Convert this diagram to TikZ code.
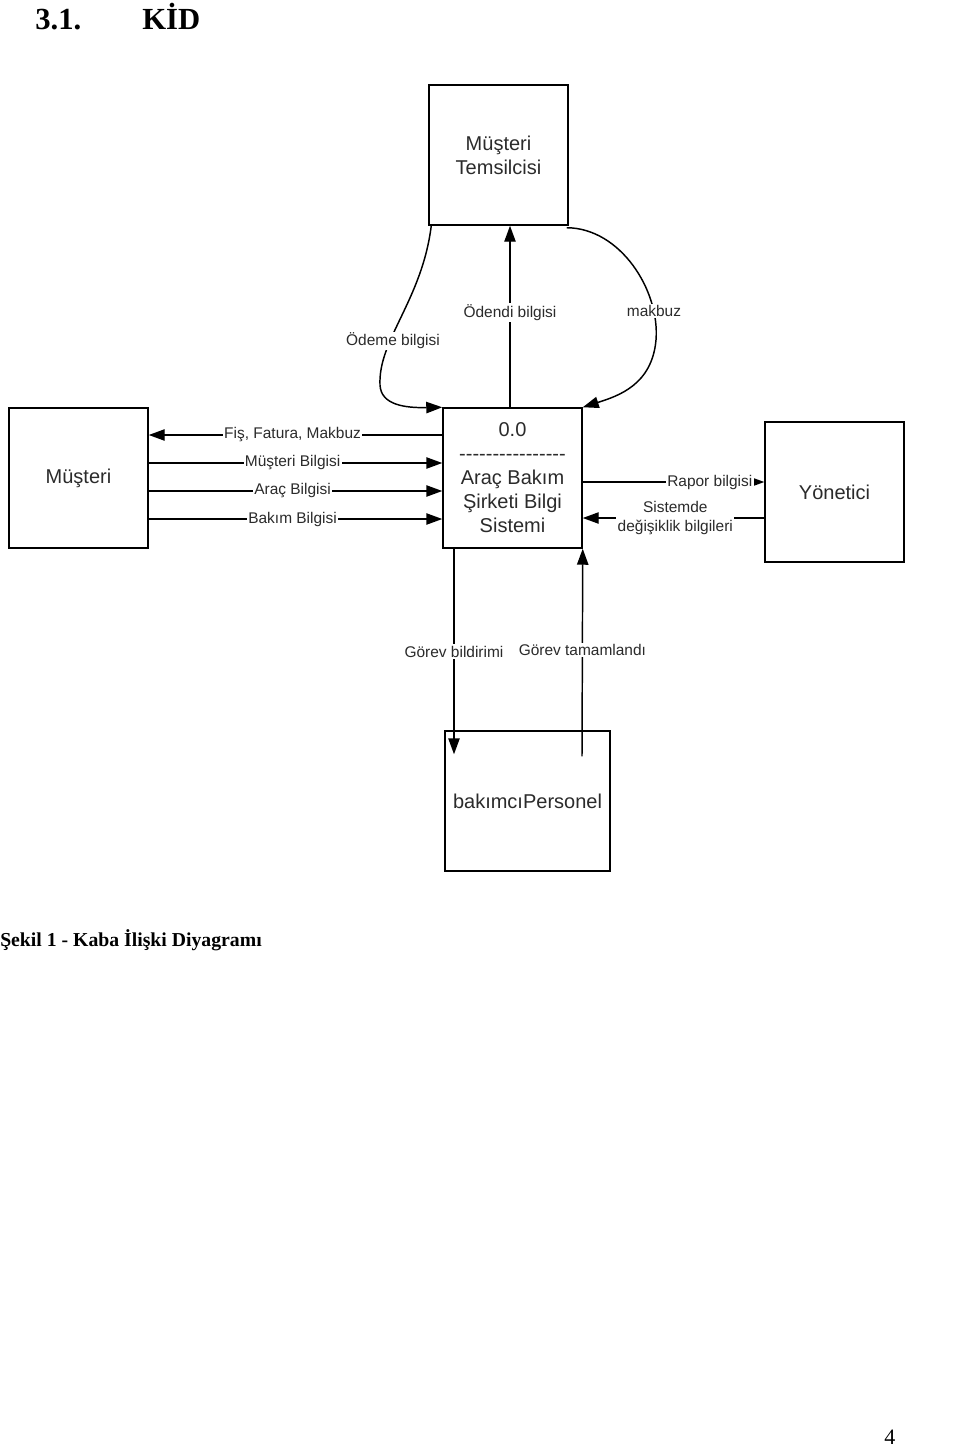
\documentclass[tikz,border=0pt]{standalone}
\usepackage{fontspec}
\setmainfont{Liberation Sans}
\newfontfamily\timesfont{Liberation Serif}
\usetikzlibrary{arrows.meta,calc}
\definecolor{txt}{HTML}{2B2B2B}
\begin{document}
\begin{tikzpicture}[x=0.75pt,y=-0.75pt,
  box/.style={draw=black, line width=1.1pt, minimum width=104.25pt, minimum height=105pt, inner sep=0pt, align=center, font=\fontsize{15}{18}\selectfont, text=txt},
  flow/.style={draw=black, line width=1.1pt, -{Triangle[length=12pt,width=8.5pt]}},
  lbl/.style={fill=white, inner sep=1pt, font=\fontsize{11.6}{14.25}\selectfont, text=txt},
  title/.style={anchor=base west, inner sep=0pt, text=black}
]
\useasboundingbox (0,0) rectangle (960,1449);
\fill[white] (0,0) rectangle (960,1449);

% titles
\node[title, font=\timesfont\bfseries\fontsize{23}{27}\selectfont] (t1) at (35,29) {3.1.};
\node[title, font=\timesfont\bfseries\fontsize{23}{27}\selectfont] (t2) at (142,29) {KİD};
\node[title, font=\timesfont\bfseries\fontsize{14.8}{18}\selectfont] (cap) at (0,946) {Şekil 1 - Kaba İlişki Diyagramı};
\node[title, font=\timesfont\fontsize{16.5}{20}\selectfont] (pg) at (884,1444) {4};

% boxes
\node[box] (MT) at (498.5,155) {Müşteri\\Temsilcisi};
\node[box] (M) at (78.5,478) {Müşteri};
\node[box] (S) at (512.5,478) {0.0\\-{}-{}-{}-{}-{}-{}-{}-{}-{}-{}-{}-{}-{}-{}-{}-\\Araç Bakım\\Şirketi Bilgi\\Sistemi};
\node[box] (Y) at (834.5,492) {Yönetici};
\node[box, minimum width=123.75pt] (B) at (527.5,801) {bakımcıPersonel};

% Müşteri flows
\draw[flow] ($(S.west)+(0,-43)$) -- node[lbl,pos=0.51]{Fiş, Fatura, Makbuz} ($(M.east)+(0,-43)$);
\draw[flow] ($(M.east)+(0,-15)$) -- node[lbl,pos=0.49]{Müşteri Bilgisi} ($(S.west)+(0,-15)$);
\draw[flow] ($(M.east)+(0,13)$) -- node[lbl,pos=0.49]{Araç Bilgisi} ($(S.west)+(0,13)$);
\draw[flow] ($(M.east)+(0,41)$) -- node[lbl,pos=0.49]{Bakım Bilgisi} ($(S.west)+(0,41)$);

% Yönetici flows
\draw[flow] ($(S.east)+(0,4)$) -- node[lbl,pos=0.70]{Rapor bilgisi} ($(Y.west)+(0,-10)$);
\draw[flow] ($(Y.west)+(0,26)$) -- node[lbl,pos=0.49,align=center]{Sistemde\\değişiklik bilgileri} ($(S.east)+(0,40)$);

% Müşteri Temsilcisi flows
\draw[flow] ($(S.north)+(-2.5,0)$) -- node[lbl,pos=0.52]{Ödendi bilgisi} ($(MT.south)+(11.5,0)$);
\draw[flow] ($(MT.south west)+(3,0)$) .. controls (422,300) and (378,340) .. (380,385) .. controls (381,405) and (405,408) .. (S.north west);
\node[lbl] (l1) at (393,341) {Ödeme bilgisi};
\draw[flow] ($(MT.south east)+(-2,2)$) .. controls (620,228) and (660,290) .. (656,340) .. controls (652,385) and (618,396) .. (S.north east);
\node[lbl] (l2) at (654,311) {makbuz};

% bakımcı flows
\draw[flow] ($(S.south)+(-58.5,0)$) -- node[lbl,pos=0.50]{Görev bildirimi} ($(B.north)+(-73.5,24)$);
\draw[flow] ($(B.north)+(54.5,26)$) -- node[lbl,pos=0.51]{Görev tamamlandı} (S.south east);
\end{tikzpicture}
\end{document}
